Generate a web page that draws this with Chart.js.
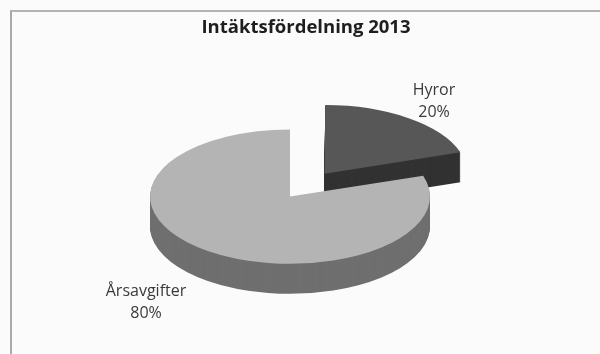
<!DOCTYPE html>
<html>
<head>
<meta charset="utf-8">
<script src="https://cdn.jsdelivr.net/npm/chart.js@4/dist/chart.umd.min.js"></script>
<style>
  html, body { margin: 0; padding: 0; background: #fbfbfb; }
  #wrap { position: relative; width: 600px; height: 354px; }
  #frame { position: absolute; left: 10px; top: 10px; width: 600px; height: 344px;
           border-left: 2px solid #a9a9a9; border-top: 2px solid #b4b4b4; }
  canvas { position: absolute; left: 0; top: 0; }
</style>
</head>
<body>
<div id="wrap">
  <div id="frame"></div>
  <canvas id="pie" width="600" height="354"></canvas>
</div>
<script>
// Chart data
const categories = ["Hyror", "Årsavgifter"];
const shares = [20, 80];
const topColors = ["#575757", "#b4b4b4"];
const sideColors = ["#323232", "#6f6f6f"];
const explode = [236, 0]; // chart.js moves an arc by offset / 4

// tilt of the fake 3D pie
const tilt = 0.48;
const depth = 30;

// squash the pie into an ellipse and draw the side walls underneath it
const pie3d = {
  id: "pie3d",
  afterLayout(chart) {
    // title sits a bit right of the pie in the original
    chart.titleBlock.left += 32;
  },
  beforeDatasetsDraw(chart) {
    const ctx = chart.ctx;
    const arcs = chart.getDatasetMeta(0).data;
    const cx = arcs[0].x, cy = arcs[0].y;
    ctx.save();
    ctx.translate(cx, cy);
    ctx.scale(1, tilt);
    ctx.translate(-cx, -cy);
    // side walls: stack of darker slices from bottom to top
    for (let d = depth; d > 0; d--) {
      ctx.save();
      ctx.translate(0, d / tilt);
      arcs.forEach((arc, i) => {
        const bg = arc.options.backgroundColor;
        arc.options.backgroundColor = sideColors[i];
        arc.draw(ctx);
        arc.options.backgroundColor = bg;
      });
      ctx.restore();
    }
  },
  afterDatasetsDraw(chart) {
    chart.ctx.restore();
    // labels placed along each slice's middle angle
    const ctx = chart.ctx;
    const arcs = chart.getDatasetMeta(0).data;
    ctx.save();
    ctx.fillStyle = "#3a3a3a";
    ctx.font = "16px 'Open Sans', sans-serif";
    ctx.textAlign = "center";
    ctx.textBaseline = "middle";
    arcs.forEach((arc, i) => {
      const mid = (arc.startAngle + arc.endAngle) / 2;
      const r = arc.outerRadius * 1.75;
      const dx = Math.cos(mid), dy = Math.sin(mid);
      const x = arc.x + dx * r;
      const y = arc.y + dy * r * tilt + Math.max(0, dy) * depth * 0.45;
      ctx.fillText(categories[i], x, y - 11);
      ctx.fillText(shares[i] + "%", x, y + 11);
    });
    ctx.restore();
  }
};

new Chart(document.getElementById("pie"), {
  type: "pie",
  data: {
    labels: categories,
    datasets: [{
      data: shares,
      backgroundColor: topColors,
      borderWidth: 0,
      offset: explode
    }]
  },
  options: {
    responsive: false,
    animation: false,
    radius: 140,
    layout: { padding: { top: 8, bottom: 8, left: 0, right: 20 } },
    plugins: {
      legend: { display: false },
      tooltip: { enabled: false },
      title: {
        display: true,
        text: "Intäktsfördelning 2013",
        color: "#1e1e1e",
        font: { family: "'Open Sans', sans-serif", size: 18.5, weight: "bold" },
        padding: { top: 9, bottom: 8 }
      }
    }
  },
  plugins: [pie3d]
});
</script>
</body>
</html>
